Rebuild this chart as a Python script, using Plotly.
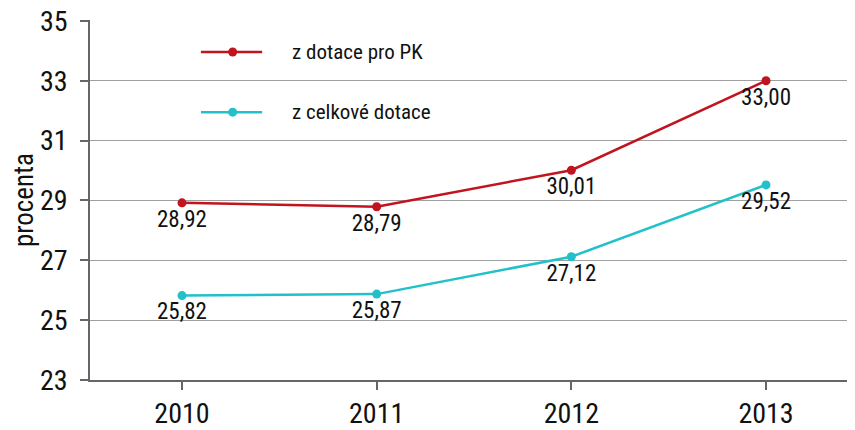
import plotly.graph_objects as go

years = ["2010", "2011", "2012", "2013"]
pk_values = [28.92, 28.79, 30.01, 33.00]
total_values = [25.82, 25.87, 27.12, 29.52]
series_names = ["z dotace pro PK", "z celkové dotace"]
y_ticks = [23, 25, 27, 29, 31, 33, 35]

RED = "#c1141e"
CYAN = "#22c1c9"
FONT = "Roboto Condensed, DejaVu Sans Condensed, sans-serif"
TXT = "#111111"

x_pos = list(range(len(years)))

fig = go.Figure()
for vals, name, col in [(pk_values, series_names[0], RED), (total_values, series_names[1], CYAN)]:
    fig.add_trace(go.Scatter(
        x=x_pos, y=vals, name=name, mode="lines+markers+text",
        line=dict(color=col, width=2.5),
        marker=dict(color=col, size=9),
        texttemplate="%{y:.2f}", textposition="bottom center",
        textfont=dict(size=23, color=TXT, family=FONT),
        showlegend=False, cliponaxis=False,
    ))

# manual legend (line + marker + label)
leg_y = [0.911, 0.744]
for (name, col), ly in zip([(series_names[0], RED), (series_names[1], CYAN)], leg_y):
    fig.add_shape(type="line", xref="paper", yref="paper", x0=0.145, x1=0.225, y0=ly, y1=ly,
                  line=dict(color=col, width=2.5))
    fig.add_shape(type="circle", xref="paper", yref="paper",
                  x0=0.1865 - 0.0059, x1=0.1865 + 0.0059, y0=ly - 0.0125, y1=ly + 0.0125,
                  line=dict(color=col, width=0), fillcolor=col)
    fig.add_annotation(text=name, xref="paper", yref="paper", x=0.261, y=ly, xanchor="left",
                       yanchor="middle", showarrow=False,
                       font=dict(size=21, color=TXT, family=FONT))

fig.update_layout(
    width=847, height=422,
    margin=dict(l=82, r=0, t=12, b=50),
    plot_bgcolor="white", paper_bgcolor="white",
    separators=", ",
    font=dict(family=FONT, color=TXT),
)
fig.update_xaxes(
    range=[-0.4726, 3.457], tickmode="array", tickvals=x_pos, ticktext=years,
    showgrid=False, showline=True, linecolor="#666666", linewidth=1.5,
    ticks="outside", ticklen=8, tickcolor="#666666", tickwidth=1.5,
    tickfont=dict(size=28, family=FONT, color=TXT), ticklabelstandoff=0,
    zeroline=False, automargin=False,
)
fig.update_yaxes(
    range=[23, 35.03], tickvals=y_ticks, showgrid=True, gridcolor="#a0a0a0", gridwidth=1,
    showline=True, linecolor="#666666", linewidth=1.5,
    ticks="outside", ticklen=8, tickcolor="#666666", tickwidth=1.5,
    tickfont=dict(size=28, family=FONT, color=TXT), ticklabelstandoff=7,
    ticklabeloverflow="allow",
    title=dict(text="procenta", font=dict(size=27, family=FONT, color=TXT), standoff=4),
    zeroline=False, automargin=False,
)

fig.write_html("out.html")
